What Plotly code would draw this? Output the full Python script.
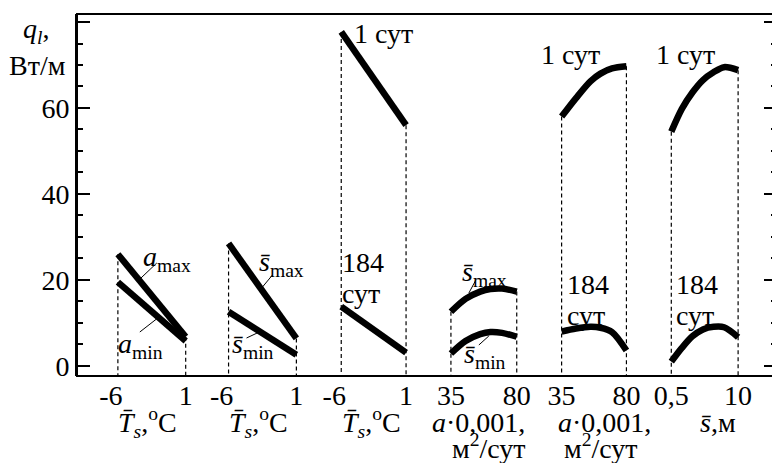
import plotly.graph_objects as go

# ---------------- data ----------------
p1_x = [-6, 1]
p1_amax = [26.0, 6.8]
p1_amin = [19.5, 5.8]

p2_x = [-6, 1]
p2_smax = [28.5, 6.4]
p2_smin = [12.6, 2.6]

p3_x = [-6, 1]
p3_day1 = [77.7, 56.0]
p3_day184 = [13.8, 3.1]

p4_x = [35, 45, 55, 62, 70, 80]
p4_smax = [12.6, 15.6, 17.3, 17.9, 18.0, 17.3]
p4_smin = [2.9, 5.8, 7.4, 7.9, 7.7, 6.8]

p5_x = [35, 45, 55, 62, 70, 80]
p5_day1 = [58.0, 62.3, 66.2, 68.0, 69.2, 69.7]
p5_day184 = [8.0, 8.7, 9.1, 8.9, 7.9, 3.6]

p6_x = [0.5, 2, 3.5, 5, 6.5, 8, 10]
p6_day1 = [54.5, 59.8, 63.6, 66.5, 68.3, 69.5, 68.8]
p6_day184 = [1.0, 4.2, 6.9, 8.5, 9.1, 9.0, 6.7]

NB = "\u00a0\u00a0"
x_ticktexts = [["-6" + NB, "1"], ["-6" + NB, "1"], ["-6" + NB, "1"],
               ["35", "80"], ["35", "80"], ["0,5", "10"]]
y_tickvals = [0, 20, 40, 60, 80]
y_ticktext = ["0", "20", "40", "60", ""]

# ---------------- layout helpers ----------------
OFF = 8  # page body margin offset
W, H = 780, 463
ML, MR, MT, MB = 77, 1, 14, 87
PW = W - ML - MR
PH = H - MT - MB
Y_MIN, Y_MAX = -2.33, 81.86
FONT = "Liberation Serif"
FS = 28

def px(x):
    return (x - ML) / PW

def py(y):
    return (H - MB - y) / PH

panel_px = [(118, 186), (229, 297), (342, 407), (452, 518), (563, 628), (673, 740)]
PAD = 20

panels = [
    (p1_x, [p1_amax, p1_amin]),
    (p2_x, [p2_smax, p2_smin]),
    (p3_x, [p3_day1, p3_day184]),
    (p4_x, [p4_smax, p4_smin]),
    (p5_x, [p5_day1, p5_day184]),
    (p6_x, [p6_day1, p6_day184]),
]

fig = go.Figure()
fig.add_trace(go.Scatter(x=[], y=[], xaxis="x", yaxis="y", showlegend=False))

layout_axes = {}
for i, ((xs, series), (a, b), tt) in enumerate(zip(panels, panel_px, x_ticktexts)):
    ax = "x%d" % (i + 2)
    lo, hi = xs[0], xs[-1]
    s = (hi - lo) / (b - a)
    top = series[0]
    fig.add_trace(go.Scatter(
        x=[lo, lo, None, hi, hi], y=[top[0], Y_MIN, None, top[-1], Y_MIN],
        xaxis=ax, yaxis="y", mode="lines",
        line=dict(color="black", width=1.2, dash="4px,3px"),
        showlegend=False, hoverinfo="skip"))
    for ser in series:
        fig.add_trace(go.Scatter(
            x=xs, y=ser, xaxis=ax, yaxis="y", mode="lines",
            line=dict(color="black", width=6.5,
                      shape="spline" if len(xs) > 2 else "linear", smoothing=0.9),
            showlegend=False))
    layout_axes["xaxis%d" % (i + 2)] = dict(
        domain=[px(a - PAD), px(b + PAD)],
        range=[lo - PAD * s, hi + PAD * s],
        anchor="y", tickmode="array", tickvals=[lo, hi], ticktext=tt,
        ticks="", showgrid=False, zeroline=False, showline=False,
        tickfont=dict(family=FONT, size=FS, color="black"),
        ticklabelstandoff=0,
    )

ann = []

def label(text, x, y, xanchor="left", size=FS):
    ann.append(dict(text=text, x=px(x), y=py(y), xref="paper", yref="paper",
                    xanchor=xanchor, yanchor="middle", showarrow=False,
                    font=dict(family=FONT, size=size, color="black")))

label("<i>a</i><sub>max</sub>", 141, 258)
label("<i>a</i><sub>min</sub>", 116, 345)
label("<i>s̄</i><sub>max</sub>", 258, 263)
label("<i>s̄</i><sub>min</sub>", 230, 345)
label("1 сут", 353, 33)
label("184", 341, 262)
label("сут", 341, 293)
label("<i>s̄</i><sub>max</sub>", 461, 273)
label("<i>s̄</i><sub>min</sub>", 463, 355)
label("1 сут", 540, 55)
label("184", 566, 285)
label("сут", 566, 315)
label("1 сут", 656, 55)
label("184", 676, 285)
label("сут", 676, 315)

tsc = "<i>T̄</i><sub><i>s</i></sub>,<sup>o</sup>C"
label(tsc, 148, 422, "center")
label(tsc, 259, 422, "center")
label(tsc, 372, 422, "center")
label("<i>a</i>·0,001,", 480, 422, "center")
label("м<sup>2</sup>/сут", 490, 446, "center")
label("<i>a</i>·0,001,", 606, 422, "center")
label("м<sup>2</sup>/сут", 602, 446, "center")
label("<i>s̄</i>,м", 720, 422, "center")
label("<i>q<sub>l</sub></i>,", 21, 30)
label("Вт/м", 68, 65, "right")

shapes = [dict(type="rect", xref="paper", yref="paper", x0=0, x1=1, y0=0, y1=1,
               line=dict(color="black", width=2))]
leaders = [((157, 263), (138, 281)), ((140, 332), (158, 318)),
           ((273, 275), (263, 287)), ((247, 338), (262, 331)),
           ((477, 280), (470, 293)), ((480, 345), (490, 336))]
for (x0, y0), (x1, y1) in leaders:
    shapes.append(dict(type="line", xref="paper", yref="paper",
                       x0=px(x0), y0=py(y0), x1=px(x1), y1=py(y1),
                       line=dict(color="black", width=1)))

fig.update_layout(
    width=W - OFF, height=H - OFF,
    margin=dict(l=ML - OFF, r=MR, t=MT - OFF, b=MB, pad=0),
    paper_bgcolor="white", plot_bgcolor="white",
    font=dict(family=FONT, size=FS, color="black"),
    xaxis=dict(domain=[0, 1], range=[0, 1], showgrid=False, zeroline=False,
               showticklabels=False, ticks="", showline=False),
    yaxis=dict(range=[Y_MIN, Y_MAX], anchor="x", tickmode="array",
               tickvals=y_tickvals, ticktext=y_ticktext,
               ticks="inside", ticklen=13, tickwidth=2, tickcolor="black",
               showline=True, linewidth=2, linecolor="black", mirror="ticks",
               showgrid=False, zeroline=False,
               minor=dict(ticks="inside", ticklen=6, tickwidth=1.5, dtick=5, tick0=0,
                          tickcolor="black", showgrid=False),
               tickfont=dict(family=FONT, size=FS, color="black")),
    annotations=ann, shapes=shapes, showlegend=False,
    **layout_axes,
)

fig.write_html("out.html")
